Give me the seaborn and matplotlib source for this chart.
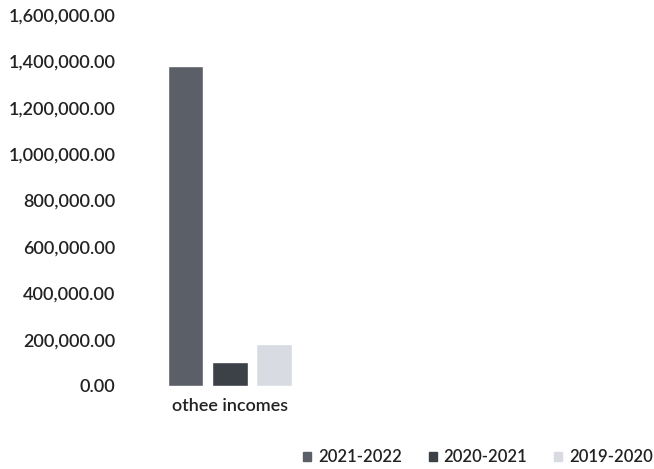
import pandas as pd
import seaborn as sns
import matplotlib.pyplot as plt
import matplotlib.ticker as ticker

# data
categories = ['othee incomes']
years = ['2021-2022', '2020-2021', '2019-2020']
values = [1380000, 103000, 180000]
colours = ['#5b6068', '#3c4047', '#d8dbe2']

df = pd.DataFrame({'category': categories * len(years),
                   'year': years,
                   'value': values})

sns.set_theme(style='white')
plt.rcParams['font.family'] = ['Lato', 'DejaVu Sans']
plt.rcParams['font.weight'] = 'semibold'

fig = plt.figure(figsize=(6.54, 4.69), dpi=100)
ax = fig.add_axes([125/654, 0.177, 515/654, 0.791])

sns.barplot(data=df, x='category', y='value', hue='year', hue_order=years,
            palette=colours, width=0.85, gap=0.2, saturation=1,
            legend=False, ax=ax)

ax.set_ylim(0, 1600000)
ax.set_xlim(-0.671, 2.626)
ax.yaxis.set_major_locator(ticker.MultipleLocator(200000))
ax.yaxis.set_major_formatter(ticker.StrMethodFormatter('{x:,.2f}'))
ax.tick_params(axis='y', length=0, pad=7, labelsize=13, labelcolor='#222222')
ax.tick_params(axis='x', length=0, pad=9, labelsize=13, labelcolor='#222222')
ax.set_xlabel('')
ax.set_ylabel('')
sns.despine(ax=ax, left=True, bottom=True)

handles = [plt.Rectangle((0, 0), 1, 1, color=c) for c in colours]
fig.legend(handles, years, loc='lower right', bbox_to_anchor=(1.021, -0.024),
           ncol=3, frameon=False, fontsize=12, handlelength=0.5,
           handleheight=0.5, handletextpad=0.4, columnspacing=1.6,
           labelcolor='#222222')

fig.savefig('out.png', dpi=100)
